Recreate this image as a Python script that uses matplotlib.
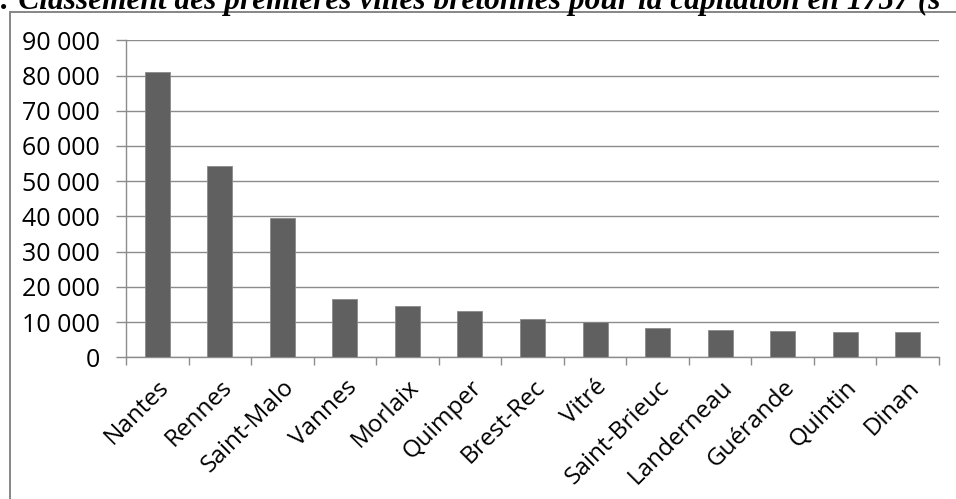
import matplotlib
matplotlib.use("Agg")
import matplotlib.pyplot as plt
from matplotlib.patches import Rectangle
from matplotlib.ticker import FuncFormatter, FixedLocator
import numpy as np

cities = ["Nantes", "Rennes", "Saint-Malo", "Vannes", "Morlaix", "Quimper",
          "Brest-Rec", "Vitré", "Saint-Brieuc", "Landerneau", "Guérande",
          "Quintin", "Dinan"]
values = [81000, 54300, 39500, 16500, 14600, 13200, 11000, 10100, 8200,
          7700, 7500, 7300, 7200]
title = ": Classement des premières villes bretonnes pour la capitation en 1757 (s"

W, H = 956, 499
fig = plt.figure(figsize=(W / 100, H / 100), dpi=100)
fig.patch.set_facecolor("white")

# chart border
fig.patches.append(Rectangle((10 / W, -0.1), 1.2, 1 - 12 / H + 0.1,
                             transform=fig.transFigure, fill=False,
                             edgecolor="#868686", linewidth=1.4))

# title (cut off at top)
fig.text(0.0, 1 - 9.0 / H, title, family="Liberation Serif", weight="bold",
         style="italic", fontsize=22.6, va="baseline", ha="left", color="black")

ax = fig.add_axes([126 / W, 1 - 357.3 / H, (939 - 126) / W, (357.3 - 40.3) / H])
x = np.arange(len(cities))
ax.bar(x, values, width=0.4, color="#606060", edgecolor="#8a8a8a",
       linewidth=0.6, zorder=3)
ax.set_xlim(-0.5, len(cities) - 0.5)
ax.set_ylim(0, 90000)
ax.set_yticks(np.arange(0, 90001, 10000))
ax.yaxis.set_major_formatter(FuncFormatter(lambda v, p: f"{int(v):,}".replace(",", " ")))
ax.grid(axis="y", color="#8c8c8c", linewidth=1.0, zorder=0)
ax.set_axisbelow(True)

for s in ["top", "right"]:
    ax.spines[s].set_visible(False)
for s in ["left", "bottom"]:
    ax.spines[s].set_color("#8c8c8c")
    ax.spines[s].set_linewidth(1.0)

ax.xaxis.set_major_locator(FixedLocator(np.arange(-0.5, len(cities), 1.0)))
ax.xaxis.set_major_formatter(FuncFormatter(lambda v, p: ""))
ax.xaxis.set_minor_locator(FixedLocator(x))
ax.set_xticklabels(cities, minor=True)
ax.tick_params(axis="x", which="major", length=6, color="#8c8c8c", width=1.0,
               direction="out")
ax.tick_params(axis="x", which="minor", length=0, pad=13)
ax.tick_params(axis="y", length=7, color="#8c8c8c", width=1.0, pad=12,
               labelsize=18)
for lab in ax.yaxis.get_ticklabels():
    lab.set_family("Open Sans")
for lab in ax.xaxis.get_ticklabels(minor=True):
    lab.set_rotation(45)
    lab.set_ha("right")
    lab.set_rotation_mode("anchor")
    lab.set_family("Open Sans")
    lab.set_fontsize(17.5)

fig.savefig("out.png", dpi=100, facecolor="white")
